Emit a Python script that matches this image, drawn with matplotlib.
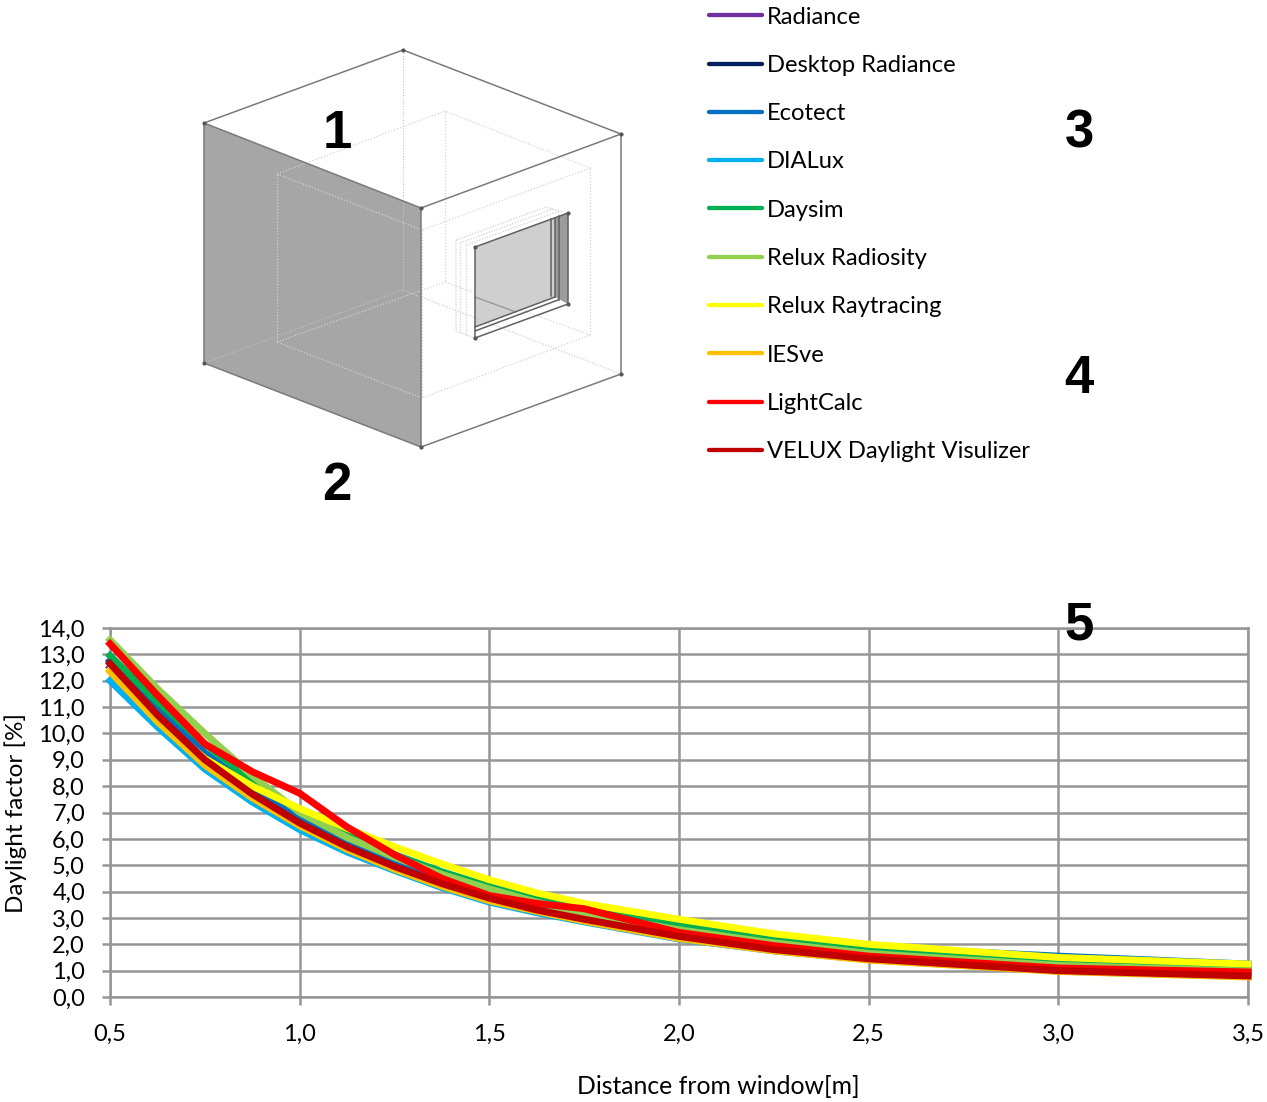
"""
Daylight factor comparison: room sketch, legend and curves per program.
Writes: out.png
"""
import matplotlib
matplotlib.use("Agg")
import matplotlib.pyplot as plt
from matplotlib.lines import Line2D
from matplotlib.patches import Polygon

W, H = 1267, 1102
GRID = "#969696"

plt.rcParams["font.family"] = ["Lato", "DejaVu Sans"]

# distance from window [m]
distance = [0.5, 0.625, 0.75, 0.875, 1.0, 1.125, 1.25, 1.375, 1.5, 1.625, 1.75, 2.0, 2.25, 2.5, 3.0, 3.5]

radiance = [12.5, 10.65, 9.05, 7.75, 6.7, 5.8, 5.05, 4.35, 3.8, 3.35, 3.0, 2.4, 1.9, 1.55, 1.1, 0.9]
desktop_radiance = [12.75, 10.9, 9.25, 7.9, 6.8, 5.9, 5.1, 4.45, 3.9, 3.45, 3.1, 2.5, 2.05, 1.7, 1.25, 1.0]
ecotect = [12.7, 10.85, 9.25, 7.9, 6.85, 5.95, 5.2, 4.55, 4.0, 3.55, 3.2, 2.7, 2.25, 1.9, 1.55, 1.25]
dialux = [12.0, 10.25, 8.65, 7.4, 6.35, 5.5, 4.8, 4.15, 3.6, 3.2, 2.85, 2.2, 1.75, 1.42, 0.98, 0.78]
daysim = [12.95, 11.2, 9.6, 8.2, 7.05, 6.15, 5.4, 4.75, 4.2, 3.75, 3.35, 2.75, 2.2, 1.8, 1.35, 1.08]
relux_radiosity = [13.55, 11.7, 10.0, 8.4, 7.0, 6.05, 5.3, 4.65, 4.1, 3.6, 3.15, 2.55, 2.05, 1.65, 1.2, 0.98]
relux_raytracing = [12.4, 10.55, 9.05, 8.0, 7.15, 6.4, 5.7, 5.05, 4.45, 3.95, 3.55, 2.95, 2.4, 2.0, 1.5, 1.25]
iesve = [12.35, 10.45, 8.8, 7.55, 6.5, 5.6, 4.85, 4.2, 3.65, 3.25, 2.88, 2.22, 1.75, 1.4, 0.97, 0.76]
lightcalc = [13.4, 11.45, 9.6, 8.55, 7.73, 6.45, 5.4, 4.5, 3.85, 3.55, 3.35, 2.45, 1.95, 1.55, 1.1, 0.95]
velux = [12.65, 10.7, 9.0, 7.7, 6.6, 5.7, 4.95, 4.3, 3.75, 3.3, 2.95, 2.3, 1.8, 1.45, 1.0, 0.8]

series = [radiance, desktop_radiance, ecotect, dialux, daysim,
          relux_radiosity, relux_raytracing, iesve, lightcalc, velux]
names = ["Radiance", "Desktop Radiance", "Ecotect", "DIALux", "Daysim",
         "Relux Radiosity", "Relux Raytracing", "IESve", "LightCalc",
         "VELUX Daylight Visulizer"]
colors = ["#7030a0", "#002060", "#0070c0", "#00b0f0", "#00b050",
          "#92d050", "#ffff00", "#ffc000", "#ff0000", "#c00000"]

y_ticks = list(range(0, 15))
x_ticks = [0.5, 1.0, 1.5, 2.0, 2.5, 3.0, 3.5]

# room sketch, in picture pixels
grey_wall = [(204, 123), (421, 208), (421, 447), (204, 363)]
outer_solid = [[(204, 123), (403, 50), (621, 134), (421, 208), (204, 123)],
               [(621, 134), (621, 374), (421, 447), (204, 363), (204, 123)],
               [(421, 208), (421, 447)]]
outer_dotted = [[(403, 50), (403, 290)], [(403, 290), (204, 363)], [(403, 290), (621, 374)]]
inner_dotted = [[(277, 174), (445, 111), (590, 168), (422, 230), (277, 174)],
                [(277, 342), (445, 282), (590, 335), (422, 398), (277, 342)],
                [(277, 174), (277, 342)], [(445, 111), (445, 282)],
                [(590, 168), (590, 335)], [(422, 230), (422, 398)]]
reveal_dotted = [[(456, 240), (546, 207), (562, 212)], [(456, 240), (456, 331), (475, 338)],
                 [(460, 243), (553, 209)], [(460, 243), (460, 333)],
                 [(466, 245), (560, 211)], [(466, 245), (466, 335)]]
window_side = [(555, 218), (568, 213), (568, 304), (555, 297)]
window_glass = [(475, 247), (555, 218), (555, 297), (475, 327)]
window_solid = [[(475, 247), (568, 213), (568, 304), (475, 338), (475, 247)],
                [(475, 327), (555, 297)], [(475, 331), (558, 300)], [(555, 218), (555, 297)],
                [(551, 219), (551, 296)], [(559, 216), (559, 300)]]
floor_line = [(475, 297), (516, 312)]
corner_points = [(204, 123), (403, 50), (621, 134), (421, 208), (421, 447), (204, 363), (621, 374),
                 (475, 247), (568, 213), (568, 304), (475, 338)]

number_labels = ["1", "2", "3", "4", "5"]
number_pos = [(337, 134), (337, 486), (1079, 134), (1079, 379), (1079, 626)]

fig = plt.figure(figsize=(W / 100, H / 100), dpi=100, facecolor="white")


def draw_lines(ax, lines, **kw):
    for line in lines:
        ax.plot([p[0] for p in line], [p[1] for p in line], **kw)


# Chart
ax = fig.add_axes([110 / W, 1 - 997 / H, (1248 - 110) / W, (997 - 628) / H])
for values, name, color in zip(series, names, colors):
    ax.plot(distance, values, color=color, lw=5.0, label=name, clip_on=False,
            solid_capstyle="projecting", solid_joinstyle="round", zorder=3)
ax.set_xlim(0.5, 3.5)
ax.set_ylim(0, 14)
ax.set_xticks(x_ticks)
ax.set_xticklabels([f"{v:.1f}".replace(".", ",") for v in x_ticks], fontsize=17)
ax.set_yticks(y_ticks)
ax.set_yticklabels([f"{v:.1f}".replace(".", ",") for v in y_ticks], fontsize=17)
ax.grid(True, color=GRID, lw=1.8)
ax.set_axisbelow(True)
ax.tick_params(axis="x", length=6, width=1.8, color=GRID, pad=13)
ax.tick_params(axis="y", length=6, width=1.8, color=GRID, pad=12)
for s in ax.spines.values():
    s.set_color(GRID)
    s.set_linewidth(1.8)
fig.text(718 / W, 1 - 1086 / H, "Distance from window[m]", fontsize=17.8, ha="center", va="center")
fig.text(16 / W, 1 - 813 / H, "Daylight factor [%]", fontsize=17.5, rotation=90, ha="center", va="center")

# Legend
handles = [Line2D([], [], color=c, lw=3.1, solid_capstyle="round") for c in colors]
fig.legend(handles, names, loc="upper left", bbox_to_anchor=(699 / W, 1 + 3 / H), frameon=False,
           fontsize=17.1, labelspacing=1.15, handlelength=2.25, handletextpad=0.2,
           borderpad=0.4, borderaxespad=0)

# Room sketch
sk = fig.add_axes([0, 0, 1, 1], facecolor="none")
sk.set_xlim(0, W)
sk.set_ylim(H, 0)
sk.axis("off")
sk.add_patch(Polygon(grey_wall, facecolor="#a6a6a6", edgecolor="none", zorder=1))
sk.add_patch(Polygon(window_glass, facecolor="#cfcfcf", edgecolor="none", zorder=1))
sk.add_patch(Polygon(window_side, facecolor="#9c9c9c", edgecolor="none", zorder=1))
draw_lines(sk, outer_dotted, color="#c4c4c4", lw=0.8, ls=(0, (1, 1.5)), zorder=2)
draw_lines(sk, inner_dotted, color="#d2d2d2", lw=0.9, ls=(0, (1, 1.5)), zorder=2)
draw_lines(sk, reveal_dotted, color="#d8d8d8", lw=1.0, ls=(0, (1, 1)), zorder=2)
draw_lines(sk, [floor_line], color="#8c8c8c", lw=0.8, zorder=2)
draw_lines(sk, outer_solid, color="#7a7a7a", lw=1.1, zorder=3)
draw_lines(sk, window_solid, color="#606060", lw=1.1, zorder=3)
sk.plot([p[0] for p in corner_points], [p[1] for p in corner_points], ls="none",
        marker="o", ms=2.0, color="#555555", zorder=4)
for label, (px, py) in zip(number_labels, number_pos):
    sk.text(px, py, label, fontsize=38, fontweight="bold", family="Liberation Sans",
            ha="center", va="center", color="black", zorder=5)

fig.savefig("out.png", dpi=100)
plt.close()
